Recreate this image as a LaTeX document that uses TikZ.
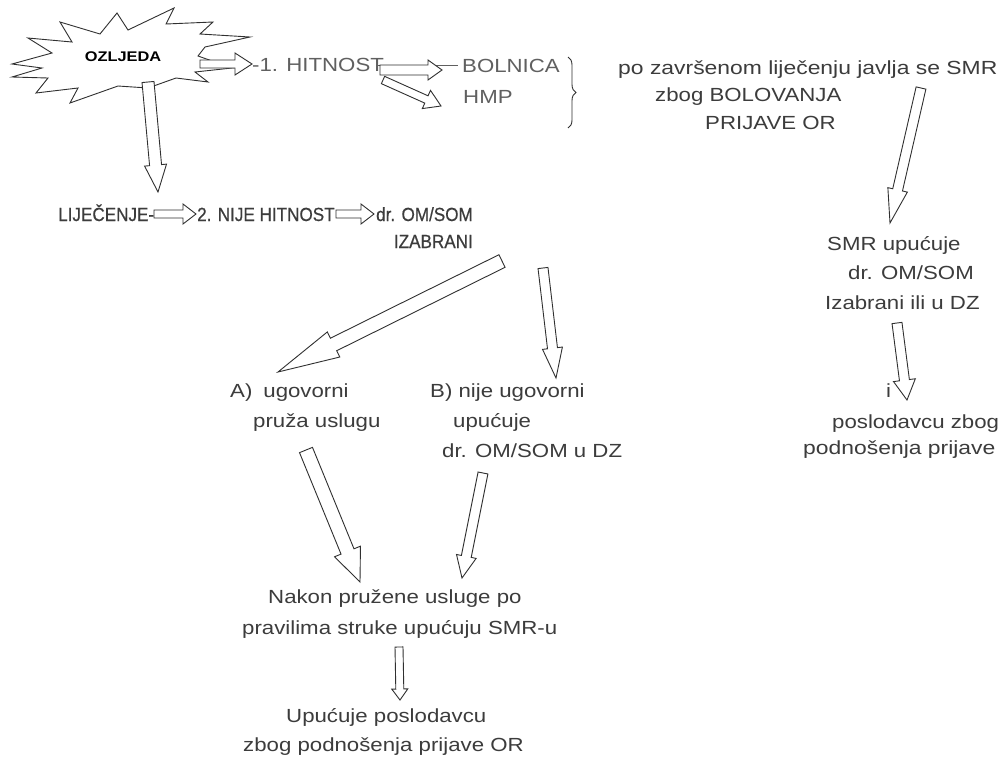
\documentclass[tikz,border=0pt]{standalone}
\usepackage{fontspec}
\setmainfont{Liberation Sans}[FakeStretch=1.17]
\newfontfamily\widefont{Liberation Sans}[FakeStretch=1.205]
\newfontfamily\narrowfont{Liberation Sans}[FakeStretch=0.9,FakeBold=0.6]
\usetikzlibrary{calc,decorations.pathreplacing}
\definecolor{txtc}{HTML}{3C3C3C}
\definecolor{txtl}{HTML}{606060}
\definecolor{linec}{HTML}{303030}
\newcommand{\blockarr}[5]{%
  \coordinate (bh) at ($(#2)!#5!(#1)$);
  \draw[barrow] ($(#1)!#3!90:(#2)$) -- ($(bh)!#3!90:(#2)$) -- ($(bh)!#4!90:(#2)$) -- (#2)
     -- ($(bh)!#4!-90:(#2)$) -- ($(bh)!#3!-90:(#2)$) -- ($(#1)!#3!-90:(#2)$) -- cycle;}
\begin{document}
\begin{tikzpicture}[x=1pt,y=-1pt,
  txt/.style={font=\fontsize{19}{22}\selectfont, text=txtc, inner sep=0pt, anchor=base west},
  txtwide/.style={txt, font=\widefont\fontsize{19}{22}\selectfont},
  txtnarrow/.style={txt, font=\narrowfont\fontsize{19}{22}\selectfont, text=txtc},
  txtlight/.style={txt, text=txtl},
  barrow/.style={draw=linec, line width=0.9pt, fill=white, line join=miter},
  burst/.style={draw=linec, line width=0.9pt, fill=white, line join=miter},
  thinline/.style={draw=txtl, line width=0.6pt}]
\fill[white] (0,0) rectangle (1002,756);
\useasboundingbox (0,0) rectangle (1002,756);

% starburst
\draw[burst] (12,64) -- (52,53) -- (28,38) -- (72,42) -- (60,22) -- (100,34) -- (117,13) -- (128,30)
  -- (174,8) -- (166,24) -- (213,22) -- (200,34) -- (250,37) -- (205,47) -- (198,56) -- (232,68)
  -- (195,72) -- (208,82) -- (176,78) -- (148,88) -- (118,86) -- (70,103) -- (78,88) -- (36,93)
  -- (48,78) -- (12,77) -- (42,68) -- cycle;
\node[font=\fontsize{14}{16}\selectfont\bfseries, text=black, inner sep=0pt, anchor=base] (oz) at (123,61) {OZLJEDA};

% text nodes
\node[txtlight] (hit) at (252,71) {-1. HITNOST};
\node[txtlight] (bol) at (462,72) {BOLNICA};
\node[txtlight] (hmp) at (463,103) {HMP};
\node[txtwide] (l1) at (618,74) {po završenom liječenju javlja se SMR};
\node[txt] (l2) at (655,101) {zbog BOLOVANJA};
\node[txt] (l3) at (705,129) {PRIJAVE OR};
\node[txtnarrow] (lij) at (58,221) {LIJEČENJE-};
\node[txtnarrow] (nije) at (197,221) {2. NIJE HITNOST};
\node[txtnarrow, anchor=base east] (dr1) at (473,221) {dr. OM/SOM};
\node[txtnarrow, anchor=base east] (izab) at (473,248) {IZABRANI};
\node[txt] (smr1) at (827,250) {SMR upućuje};
\node[txt] (smr2) at (848,279) {dr. OM/SOM};
\node[txt] (smr3) at (825,309) {Izabrani ili u DZ};
\node[txt] (iletter) at (886,397) {i};
\node[txt] (pos1) at (832,428) {poslodavcu zbog};
\node[txtwide] (pos2) at (803,454) {podnošenja prijave};
\node[txt] (a1) at (230,397) {A)\hspace{11pt}ugovorni};
\node[txt] (a2) at (253,427) {pruža uslugu};
\node[txt] (b1) at (430,397) {B) nije ugovorni};
\node[txt] (b2) at (453,427) {upućuje};
\node[txt] (b3) at (442,457) {dr. OM/SOM u DZ};
\node[txt] (n1) at (268,603) {Nakon pružene usluge po};
\node[txt] (n2) at (242,634) {pravilima struke upućuju SMR-u};
\node[txt] (u1) at (286,722) {Upućuje poslodavcu};
\node[txt] (u2) at (243,751) {zbog podnošenja prijave OR};

% brace
\coordinate (brtop) at (568,57);
\coordinate (brbot) at (568,128);
\draw[linec, line width=0.9pt, decorate, decoration={brace, amplitude=8pt}] (brtop) -- (brbot);

% thin line HITNOST -> BOLNICA
\coordinate (tl1) at (376,65);
\coordinate (tl2) at (458,65);
\draw[thinline] (tl1) -- (tl2);

% arrow end points
\coordinate (s1) at (200,64);  \coordinate (e1) at (252,64);
\coordinate (s2) at (148,82);  \coordinate (e2) at (158,192);
\coordinate (s3) at (380,70);  \coordinate (e3) at (442,70);
\coordinate (s4) at (383,80);  \coordinate (e4) at (441,106);
\coordinate (s5) at (154,214); \coordinate (e5) at (196,214);
\coordinate (s6) at (336,214); \coordinate (e6) at (374,214);
\coordinate (s7) at (502,261); \coordinate (e7) at (278,372);
\coordinate (s8) at (543,268); \coordinate (e8) at (556,378);
\coordinate (s9) at (306,450); \coordinate (e9) at (360,582);
\coordinate (s10) at (483,473); \coordinate (e10) at (462,578);
\coordinate (s11) at (399,647); \coordinate (e11) at (400,700);
\coordinate (s12) at (921,88); \coordinate (e12) at (890,223);
\coordinate (s13) at (897,323); \coordinate (e13) at (907,400);

\blockarr{s1}{e1}{4pt}{11pt}{17pt}
\blockarr{s2}{e2}{6pt}{11pt}{27pt}
\blockarr{s3}{e3}{5pt}{10pt}{14pt}
\blockarr{s4}{e4}{4pt}{10pt}{16pt}
\blockarr{s5}{e5}{4pt}{10pt}{13pt}
\blockarr{s6}{e6}{4pt}{10pt}{13pt}
\blockarr{s7}{e7}{7pt}{14pt}{62pt}
\blockarr{s8}{e8}{5pt}{10pt}{30pt}
\blockarr{s9}{e9}{7pt}{14pt}{33pt}
\blockarr{s10}{e10}{5pt}{10pt}{22pt}
\blockarr{s11}{e11}{4pt}{8pt}{11pt}
\blockarr{s12}{e12}{5pt}{10pt}{34pt}
\blockarr{s13}{e13}{5pt}{11pt}{20pt}
\end{tikzpicture}
\end{document}
